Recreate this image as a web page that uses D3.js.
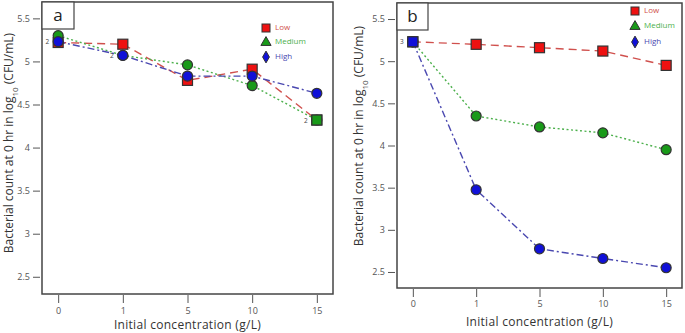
<!DOCTYPE html>
<html>
<head>
<meta charset="utf-8">
<script src="https://cdn.jsdelivr.net/npm/d3@7"></script>
<style>
  body { margin: 0; background: #fff; }
  svg { display: block; font-family: "Open Sans", sans-serif; }
</style>
</head>
<body>
<svg id="chart" width="685" height="333"></svg>
<script>
// categories on the x axis (initial concentration, g/L)
const categories = ["0", "1", "5", "10", "15"];
const seriesNames = ["Low", "Medium", "High"];
const yTicks = [2.5, 3, 3.5, 4, 4.5, 5, 5.5];

// panel a
const lowA = [5.22, 5.20, 4.78, 4.91, 4.32];
const mediumA = [5.30, 5.07, 4.96, 4.72, 4.32];
const highA = [5.23, 5.07, 4.83, 4.83, 4.63];
// overlapping design points: [category index, series index, count]
const overlapA = [[0, 2, 2], [1, 2, 2], [4, 1, 2]];

// panel b
const lowB = [5.23, 5.20, 5.16, 5.12, 4.95];
const mediumB = [5.23, 4.35, 4.22, 4.15, 3.95];
const highB = [5.23, 3.475, 2.775, 2.66, 2.55];
const overlapB = [[0, 2, 3]];

const lineColor = ["#d0504d", "#4cb04c", "#4a48b0"];
const markColor = ["#ee1111", "#199a19", "#1010d8"];
const dash = ["8,5", "2,2.5", "7,3,2,3"];

const svg = d3.select("#chart");

const draw_panel = function (cfg) {
    const g = svg.append("g");

    const x = d3.scalePoint()
        .domain(categories)
        .range([cfg.left, cfg.right])
        .padding(0.25);

    const y = d3.scaleLinear()
        .domain(cfg.yDomain)
        .range([cfg.bottom, cfg.top]);

    // frame
    g.append("rect")
        .attr("x", cfg.left).attr("y", cfg.top)
        .attr("width", cfg.right - cfg.left)
        .attr("height", cfg.bottom - cfg.top)
        .attr("fill", "none")
        .attr("stroke", "#444")
        .attr("stroke-width", 1.5);

    // y axis (ticks outside frame)
    const yAxis = g.append("g")
        .attr("transform", `translate(${cfg.left - 2},0)`)
        .call(d3.axisLeft(y).tickValues(yTicks).tickSize(7).tickPadding(3).tickFormat(d3.format("")));
    yAxis.select(".domain").remove();
    yAxis.selectAll("line").attr("stroke", "#555");
    yAxis.selectAll("text").attr("fill", "#555").style("font-size", "9px").style("font-family", "Open Sans");

    // x axis
    const xAxis = g.append("g")
        .attr("transform", `translate(0,${cfg.bottom + 1})`)
        .call(d3.axisBottom(x).tickSize(8).tickPadding(cfg.xPad));
    xAxis.select(".domain").remove();
    xAxis.selectAll("line").attr("stroke", "#555");
    xAxis.selectAll("text").attr("fill", "#555").style("font-size", "9px").style("font-family", "Open Sans");

    // axis titles
    g.append("text")
        .attr("x", (cfg.left + cfg.right) / 2)
        .attr("y", cfg.xTitleY)
        .attr("text-anchor", "middle")
        .attr("fill", "#333")
        .style("font-size", "12px")
        .style("letter-spacing", "0.3px")
        .text("Initial concentration (g/L)");

    const yt = g.append("text")
        .attr("transform", `translate(${cfg.yTitleX},${cfg.yTitleY}) rotate(-90)`)
        .attr("text-anchor", "middle")
        .attr("dominant-baseline", "middle")
        .attr("fill", "#333")
        .style("font-size", "12px");
    yt.append("tspan").text("Bacterial count at 0 hr in log");
    yt.append("tspan").attr("baseline-shift", "sub").style("font-size", "8px").text("10");
    yt.append("tspan").text(" (CFU/mL)");

    // panel letter box
    g.append("rect")
        .attr("x", cfg.left).attr("y", cfg.top)
        .attr("width", cfg.boxW).attr("height", 27)
        .attr("fill", "#fff")
        .attr("stroke", "#444")
        .attr("stroke-width", 1.2);
    g.append("text")
        .attr("x", cfg.left + cfg.boxW / 2)
        .attr("y", cfg.top + 19)
        .attr("text-anchor", "middle")
        .attr("fill", "#222")
        .style("font-size", "17px")
        .text(cfg.letter);

    // lines
    const line = d3.line()
        .x((d, i) => x(categories[i]))
        .y(d => y(d));

    cfg.series.forEach((s, k) => {
        g.append("path")
            .datum(s)
            .attr("d", line)
            .attr("fill", "none")
            .attr("stroke", lineColor[k])
            .attr("stroke-width", 1.4)
            .attr("stroke-dasharray", dash[k]);
    });

    // markers: low squares, medium/high circles
    cfg.series.forEach((s, k) => {
        s.forEach((v, i) => {
            if (k === 0) {
                g.append("rect")
                    .attr("x", x(categories[i]) - 5).attr("y", y(v) - 5)
                    .attr("width", 10).attr("height", 10)
                    .attr("fill", markColor[0]).attr("stroke", "#333").attr("stroke-width", 1.2);
            } else {
                g.append("circle")
                    .attr("cx", x(categories[i])).attr("cy", y(v)).attr("r", 5)
                    .attr("fill", markColor[k]).attr("stroke", "#333").attr("stroke-width", 1.2);
            }
        });
    });

    // overlapping points: square marker + count
    cfg.overlap.forEach(o => {
        const cx = x(categories[o[0]]);
        const cy = y(cfg.series[o[1]][o[0]]);
        if (o[0] === 4 || o[2] > 2) {
            g.append("rect")
                .attr("x", cx - 5).attr("y", cy - 5)
                .attr("width", 10).attr("height", 10)
                .attr("fill", markColor[o[1]]).attr("stroke", "#333").attr("stroke-width", 1.2);
        }
        g.append("text")
            .attr("x", cx - 9).attr("y", cy + 2.5)
            .attr("text-anchor", "end")
            .attr("fill", "#444")
            .style("font-size", "6.5px")
            .text(o[2]);
    });

    // legend
    seriesNames.forEach((name, k) => {
        const ly = cfg.legY[k];
        const lx = cfg.legX;
        if (k === 0) {
            g.append("rect")
                .attr("x", lx - 4).attr("y", ly - 4).attr("width", 8).attr("height", 8)
                .attr("fill", markColor[0]).attr("stroke", "#333").attr("stroke-width", 1);
        } else if (k === 1) {
            g.append("path")
                .attr("d", d3.symbol(d3.symbolTriangle, 45)())
                .attr("transform", `translate(${lx},${ly + 0.5})`)
                .attr("fill", markColor[1]).attr("stroke", "#333").attr("stroke-width", 1);
        } else {
            g.append("path")
                .attr("d", d3.symbol(d3.symbolDiamond, 40)())
                .attr("transform", `translate(${lx},${ly})`)
                .attr("fill", markColor[2]).attr("stroke", "#333").attr("stroke-width", 1);
        }
        g.append("text")
            .attr("x", lx + 9).attr("y", ly)
            .attr("dominant-baseline", "middle")
            .attr("fill", lineColor[k])
            .style("font-size", "8px")
            .text(name);
    });
};

draw_panel({
    letter: "a", left: 42, right: 333, top: 2, bottom: 294, boxW: 32,
    yDomain: [2.30, 5.69],
    xPad: 5, xTitleY: 329, yTitleX: 10, yTitleY: 143,
    series: [lowA, mediumA, highA], overlap: overlapA,
    legX: 266, legY: [28, 42, 57]
});

draw_panel({
    letter: "b", left: 397, right: 682, top: 3, bottom: 288, boxW: 31,
    yDomain: [2.31, 5.69],
    xPad: 4, xTitleY: 326, yTitleX: 360, yTitleY: 136,
    series: [lowB, mediumB, highB], overlap: overlapB,
    legX: 635, legY: [11, 26, 42]
});
</script>
</body>
</html>
